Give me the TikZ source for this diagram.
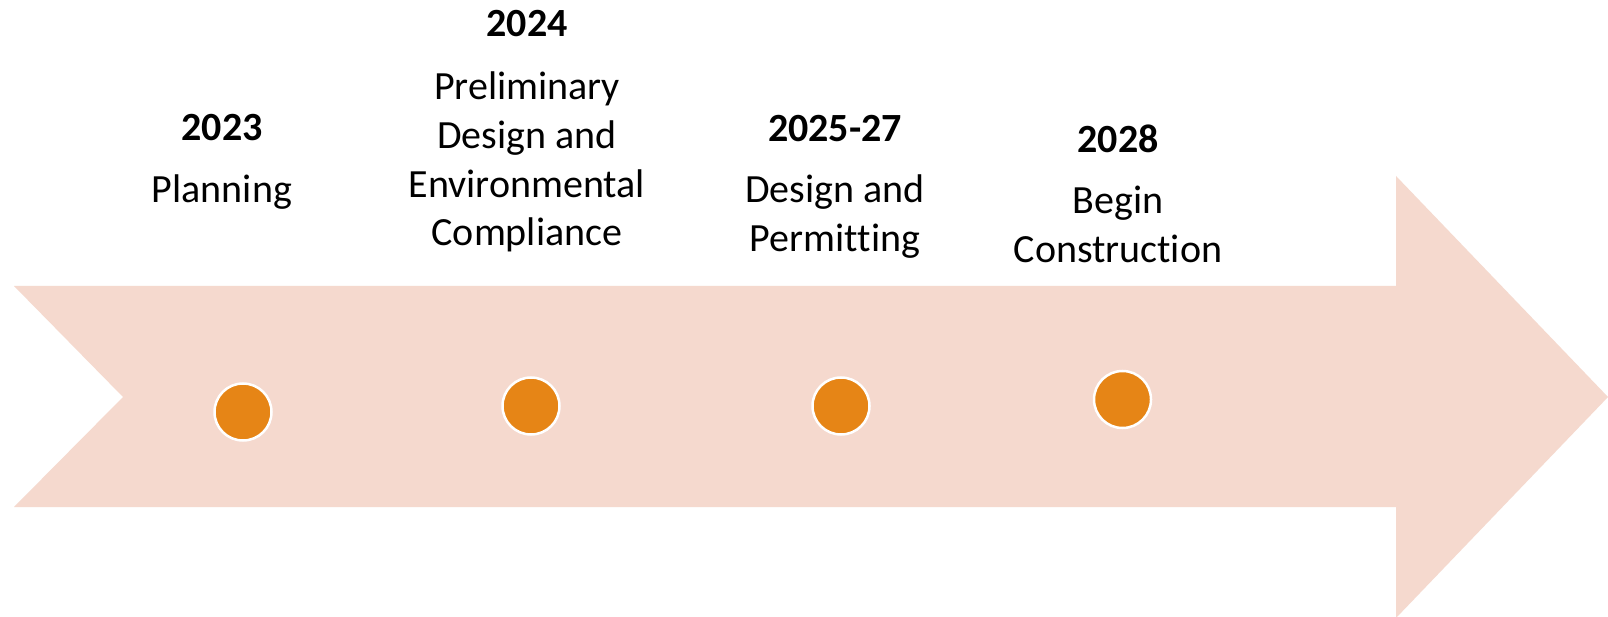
\documentclass[tikz,border=0pt]{standalone}
\usepackage{fontspec}
\setmainfont{Carlito}[Ligatures=NoCommon]
\definecolor{bandcol}{RGB}{245,217,206}
\definecolor{dotcol}{RGB}{230,133,22}
\newcommand{\nolig}{\kern0pt }
\begin{document}
\begin{tikzpicture}[x=1pt,y=-1pt,
  band/.style={fill=bandcol,draw=none},
  dot/.style={circle,fill=dotcol,draw=white,line width=2.5pt,minimum size=57pt,inner sep=0pt},
  yeartxt/.style={anchor=base,inner sep=0pt,font=\fontsize{40}{48.8}\selectfont\bfseries},
  desctxt/.style={anchor=base,inner sep=0pt,font=\fontsize{40}{48.8}\selectfont}]
\useasboundingbox[fill=white] (0,0) rectangle (1608,617);
\fill[band] (14,286) -- (1396,286) -- (1396,176) -- (1608,397) -- (1396,618) -- (1396,507) -- (14,507) -- (123,397) -- cycle;
\node[dot] (d1) at (243,412) {};
\node[dot] (d2) at (531,406) {};
\node[dot] (d3) at (841,406) {};
\node[dot] (d4) at (1122.5,399.5) {};
\node[yeartxt] (y1) at (222,141) {2023};
\node[desctxt] (t1) at (222,202.5) {\begin{tabular}[t]{@{}c@{}}Planning\end{tabular}};
\node[yeartxt] (y2) at (527,37) {2024};
\node[desctxt] (t2) at (527,99.5) {\begin{tabular}[t]{@{}c@{}}Preliminary\\Design and\\Environmental\\Compliance\end{tabular}};
\node[yeartxt] (y3) at (835,142) {2025-27};
\node[desctxt] (t3) at (835,203) {\begin{tabular}[t]{@{}c@{}}Design and\\Permit\nolig t\nolig ing\end{tabular}};
\node[yeartxt] (y4) at (1118,153) {2028};
\node[desctxt] (t4) at (1118,213.5) {\begin{tabular}[t]{@{}c@{}}Begin\\Construct\nolig ion\end{tabular}};
\end{tikzpicture}
\end{document}
